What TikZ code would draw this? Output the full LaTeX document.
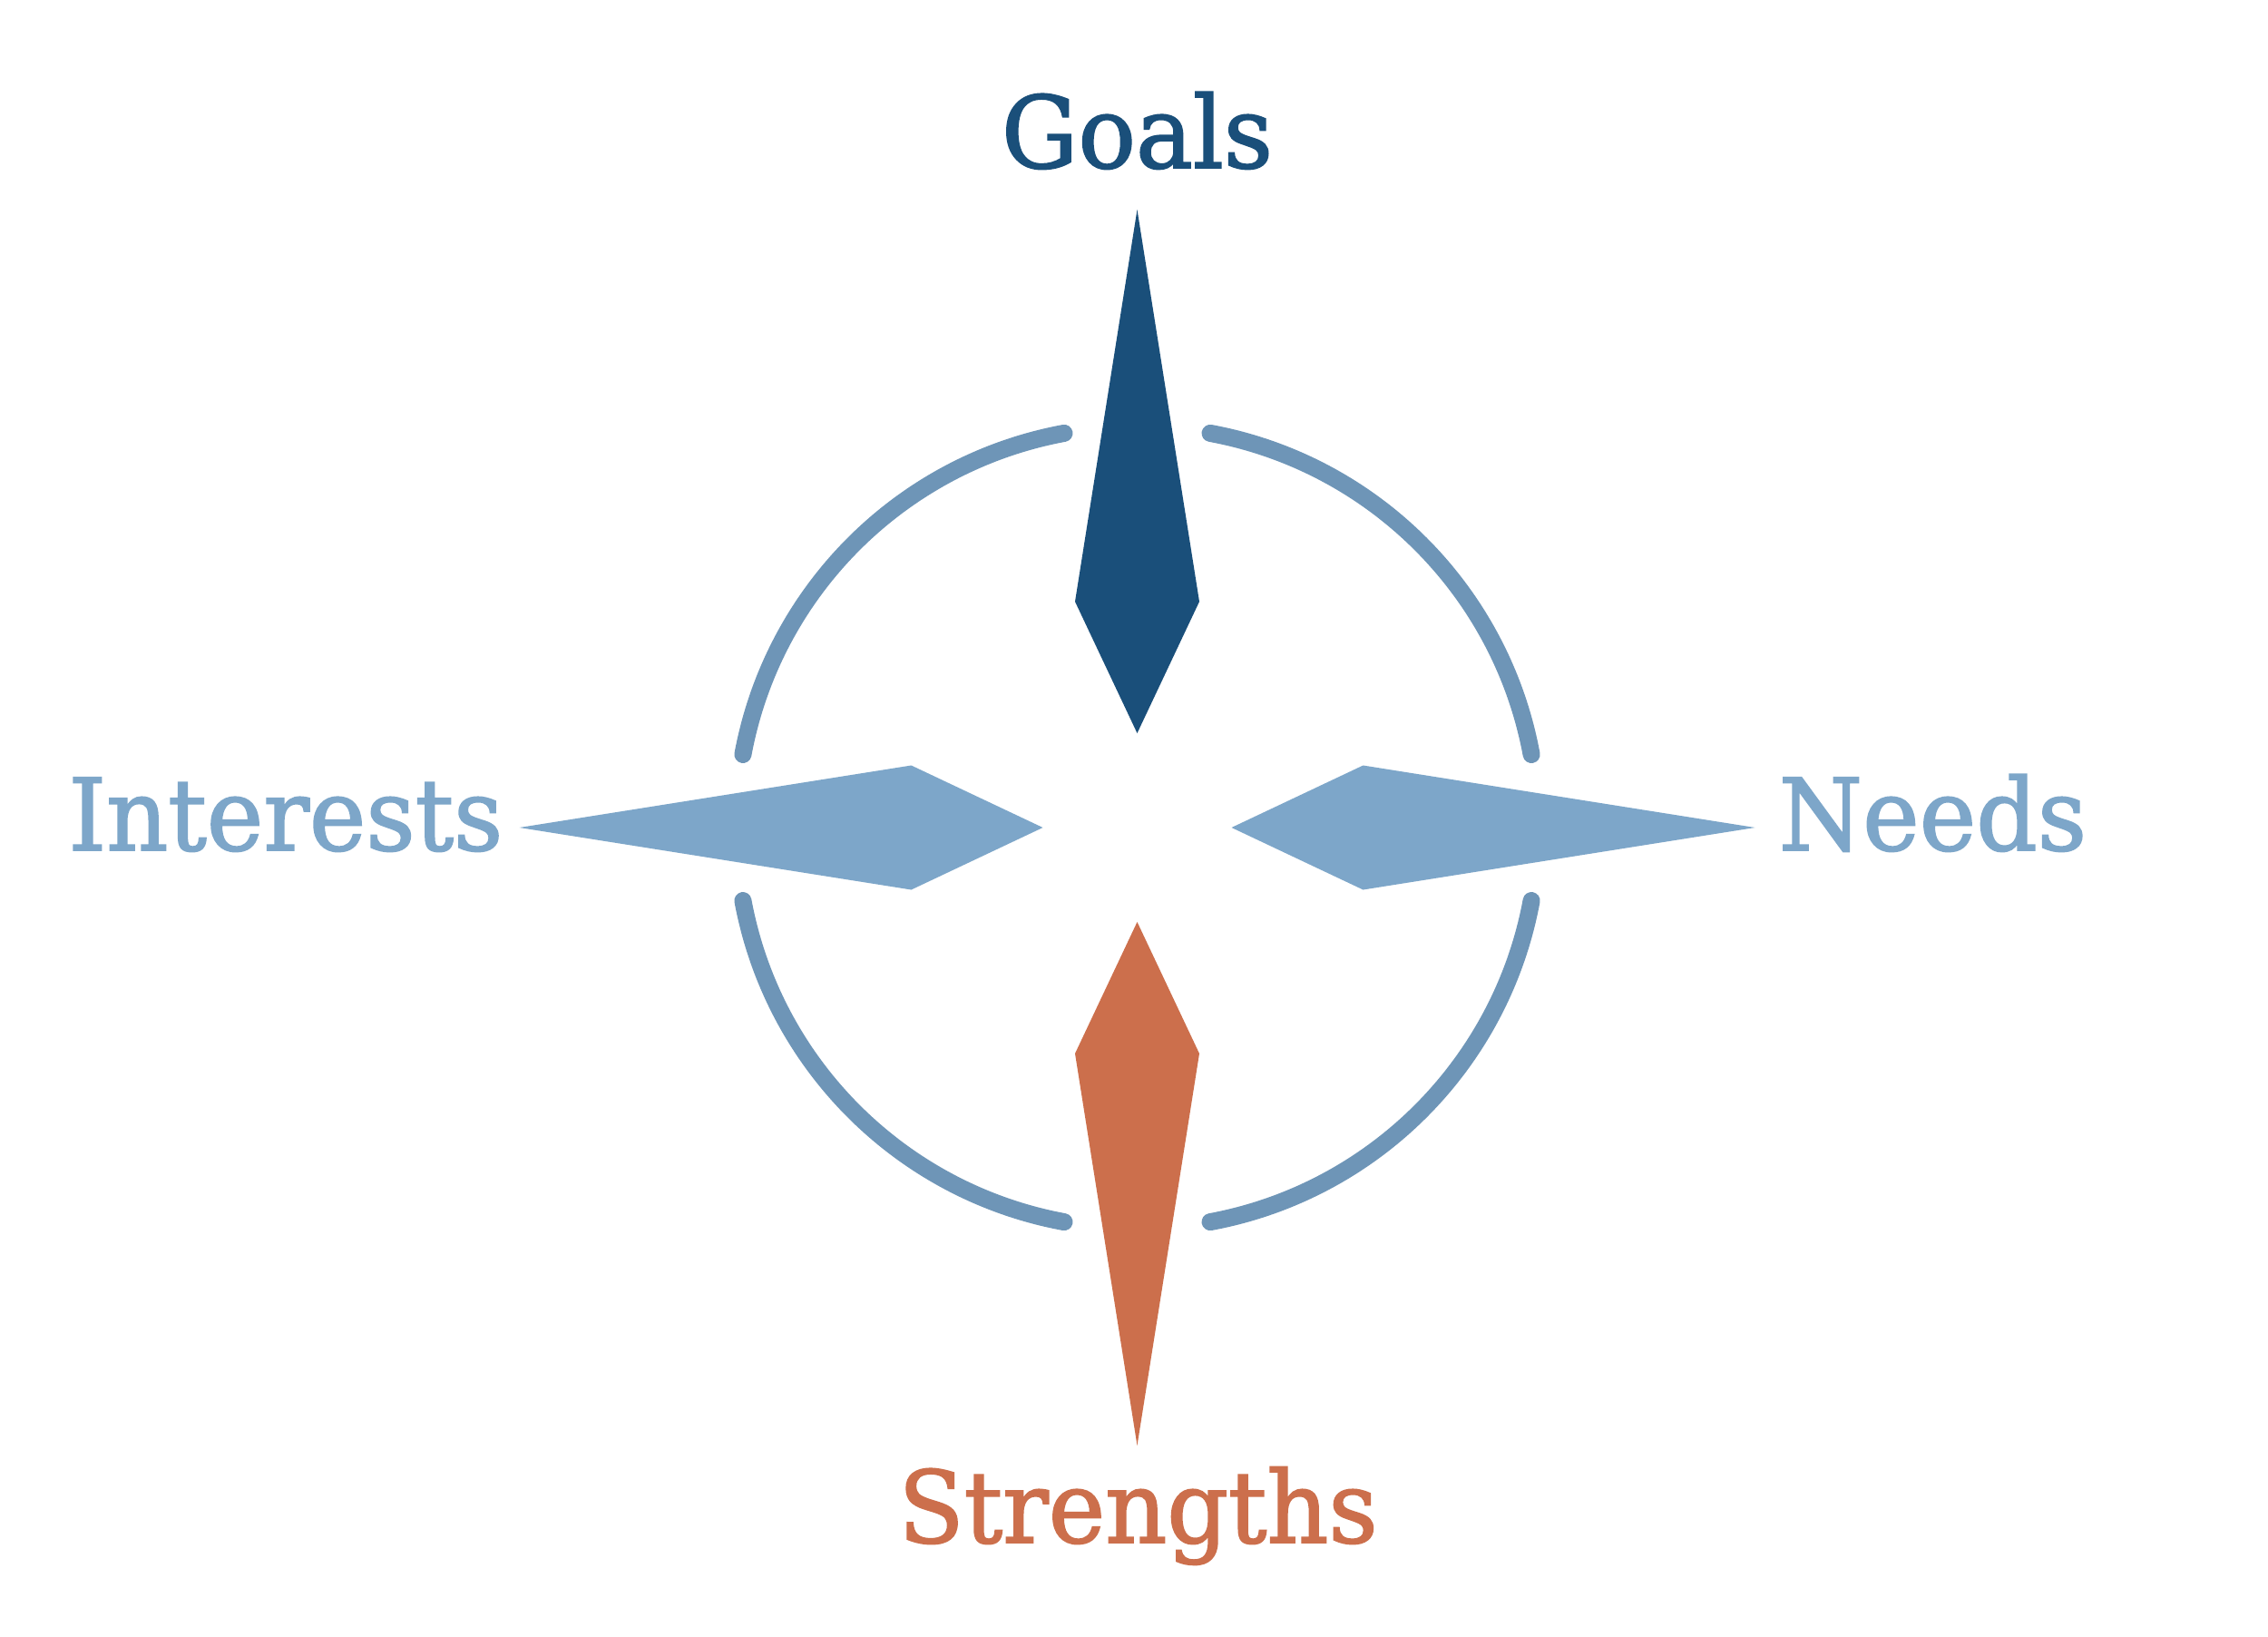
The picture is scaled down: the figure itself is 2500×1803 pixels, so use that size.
\documentclass[tikz,border=0pt]{standalone}
\usepackage{fontspec}
\setmainfont{DejaVu Serif}[FakeStretch=0.96, FakeBold=1.6]
\definecolor{goalblue}{HTML}{1A4F7A}
\definecolor{lightblue}{HTML}{7DA6C9}
\definecolor{arcblue}{HTML}{6E95B7}
\definecolor{strorange}{HTML}{CC6F4C}
\tikzset{
  pics/needle/.style={code={\fill[#1] (0,-681) -- (68.5,-249) -- (0,-104) -- (-68.5,-249) -- cycle;}},
  ringarc/.style={draw=arcblue, line width=0.19cm, line cap=round},
  label/.style={inner sep=0pt, font=\fontsize{31.3pt}{36pt}\selectfont}
}
\begin{document}
\begin{tikzpicture}[x=0.01cm,y=-0.01cm]
\useasboundingbox[fill=white] (0,0) rectangle (2500,1803);
\coordinate (c) at (1253.5,912);
% ring arcs
\foreach \a in {0,90,180,270}{
  \draw[ringarc] (c) ++(\a+10.5:442) arc[start angle=\a+10.5, end angle=\a+79.5, radius=442];
}
% needles
\pic at (c) {needle=goalblue};
\pic[rotate=180] at (c) {needle=strorange};
\pic[rotate=90] at (c) {needle=lightblue};
\pic[rotate=270] at (c) {needle=lightblue};
% labels
\node[label, text=goalblue, anchor=base] (goals) at (1253.5,185) {Goals};
\node[label, text=strorange, anchor=base] (strengths) at (1254.5,1700) {Strengths};
\node[label, text=lightblue, anchor=base east] (interests) at (555,937) {Interests};
\node[label, text=lightblue, anchor=base west] (needs) at (1960,937) {Needs};
\end{tikzpicture}
\end{document}
